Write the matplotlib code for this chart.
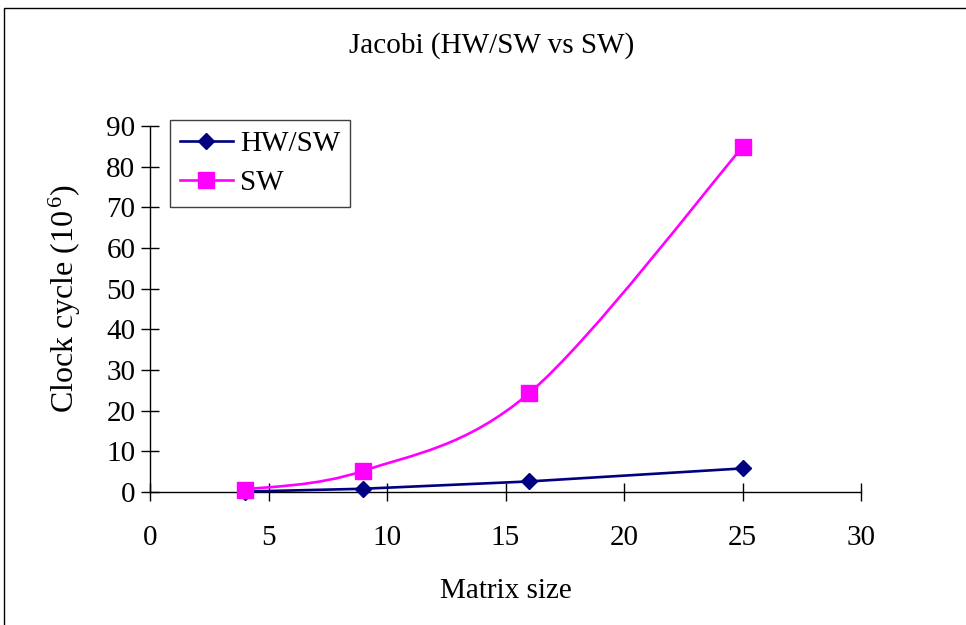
import numpy as np
import matplotlib
matplotlib.use('Agg')
import matplotlib.pyplot as plt
from matplotlib.path import Path
from matplotlib.patches import PathPatch, Rectangle
from matplotlib.lines import Line2D

# Daten
matrix_size = [4, 9, 16, 25]
hw_sw = [0.1, 0.8, 2.6, 5.8]
sw = [0.6, 5.2, 24.3, 84.8]

plt.rcParams['font.family'] = ['Liberation Serif', 'DejaVu Serif']
plt.rcParams['mathtext.fontset'] = 'custom'
plt.rcParams['mathtext.rm'] = 'Liberation Serif'
plt.rcParams['mathtext.it'] = 'Liberation Serif'


def excel_smooth(xs, ys):
    # Bezier-Glaettung wie in Excel (Catmull-Rom, Tension 1/6)
    p = np.column_stack([xs, ys]).astype(float)
    verts = [p[0]]
    codes = [Path.MOVETO]
    n = len(p)
    for i in range(n - 1):
        p0 = p[i - 1] if i > 0 else p[i]
        p1 = p[i]
        p2 = p[i + 1]
        p3 = p[i + 2] if i + 2 < n else p[i + 1]
        c1 = p1 + (p2 - p0) / 6.0
        c2 = p2 - (p3 - p1) / 6.0
        verts += [c1, c2, p2]
        codes += [Path.CURVE4] * 3
    return Path(verts, codes)


fig = plt.figure(figsize=(9.66, 6.25), dpi=100)
ax = fig.add_axes([150/966, 1 - 492/625, 711/966, 366/625])

# Rahmen um das Diagramm
fig.add_artist(Rectangle((4/966, -0.1), 1.2, 1 - 8/625 + 0.1, transform=fig.transFigure,
                         fill=False, edgecolor='black', linewidth=1.0))

ax.plot(matrix_size, hw_sw, color='#000080', linewidth=1.9, marker='D', markersize=8,
        zorder=3, clip_on=False)
ax.add_patch(PathPatch(excel_smooth(matrix_size, sw), facecolor='none',
                       edgecolor='#FF00FF', linewidth=1.9, zorder=4))
ax.plot(matrix_size, sw, linestyle='none', marker='s', markersize=11,
        color='#FF00FF', zorder=5, clip_on=False)

ax.set_xlim(0, 30)
ax.set_ylim(0, 90)
ax.set_xticks(np.arange(0, 31, 5))
ax.set_yticks(np.arange(0, 91, 10))
ax.tick_params(direction='inout', length=13, width=1, labelsize=21, pad=4)
ax.tick_params(axis='x', pad=17)
for s in ['top', 'right']:
    ax.spines[s].set_visible(False)
for s in ['left', 'bottom']:
    ax.spines[s].set_linewidth(1)

ax.set_xlabel('Matrix size', fontsize=21, labelpad=20)
ax.set_ylabel('Clock cycle (10$^{\\,6}$)', fontsize=23)
ax.yaxis.set_label_coords(-0.094, 0.53)
fig.text(492/966, 1 - 46/625, 'Jacobi (HW/SW vs SW)', fontsize=21, ha='center', va='center')

handles = [Line2D([], [], color='#000080', linewidth=1.9, marker='D', markersize=8),
           Line2D([], [], color='#FF00FF', linewidth=1.9, marker='s', markersize=11)]
leg = ax.legend(handles, ['HW/SW', 'SW'], loc='upper left', bbox_to_anchor=(0.028, 1.016),
                fontsize=21, fancybox=False, edgecolor='#404040', framealpha=1,
                handlelength=1.8, handletextpad=0.25, borderpad=0.35, labelspacing=0.45,
                borderaxespad=0)
leg.get_frame().set_linewidth(1.0)

fig.savefig('out.png', dpi=100)
